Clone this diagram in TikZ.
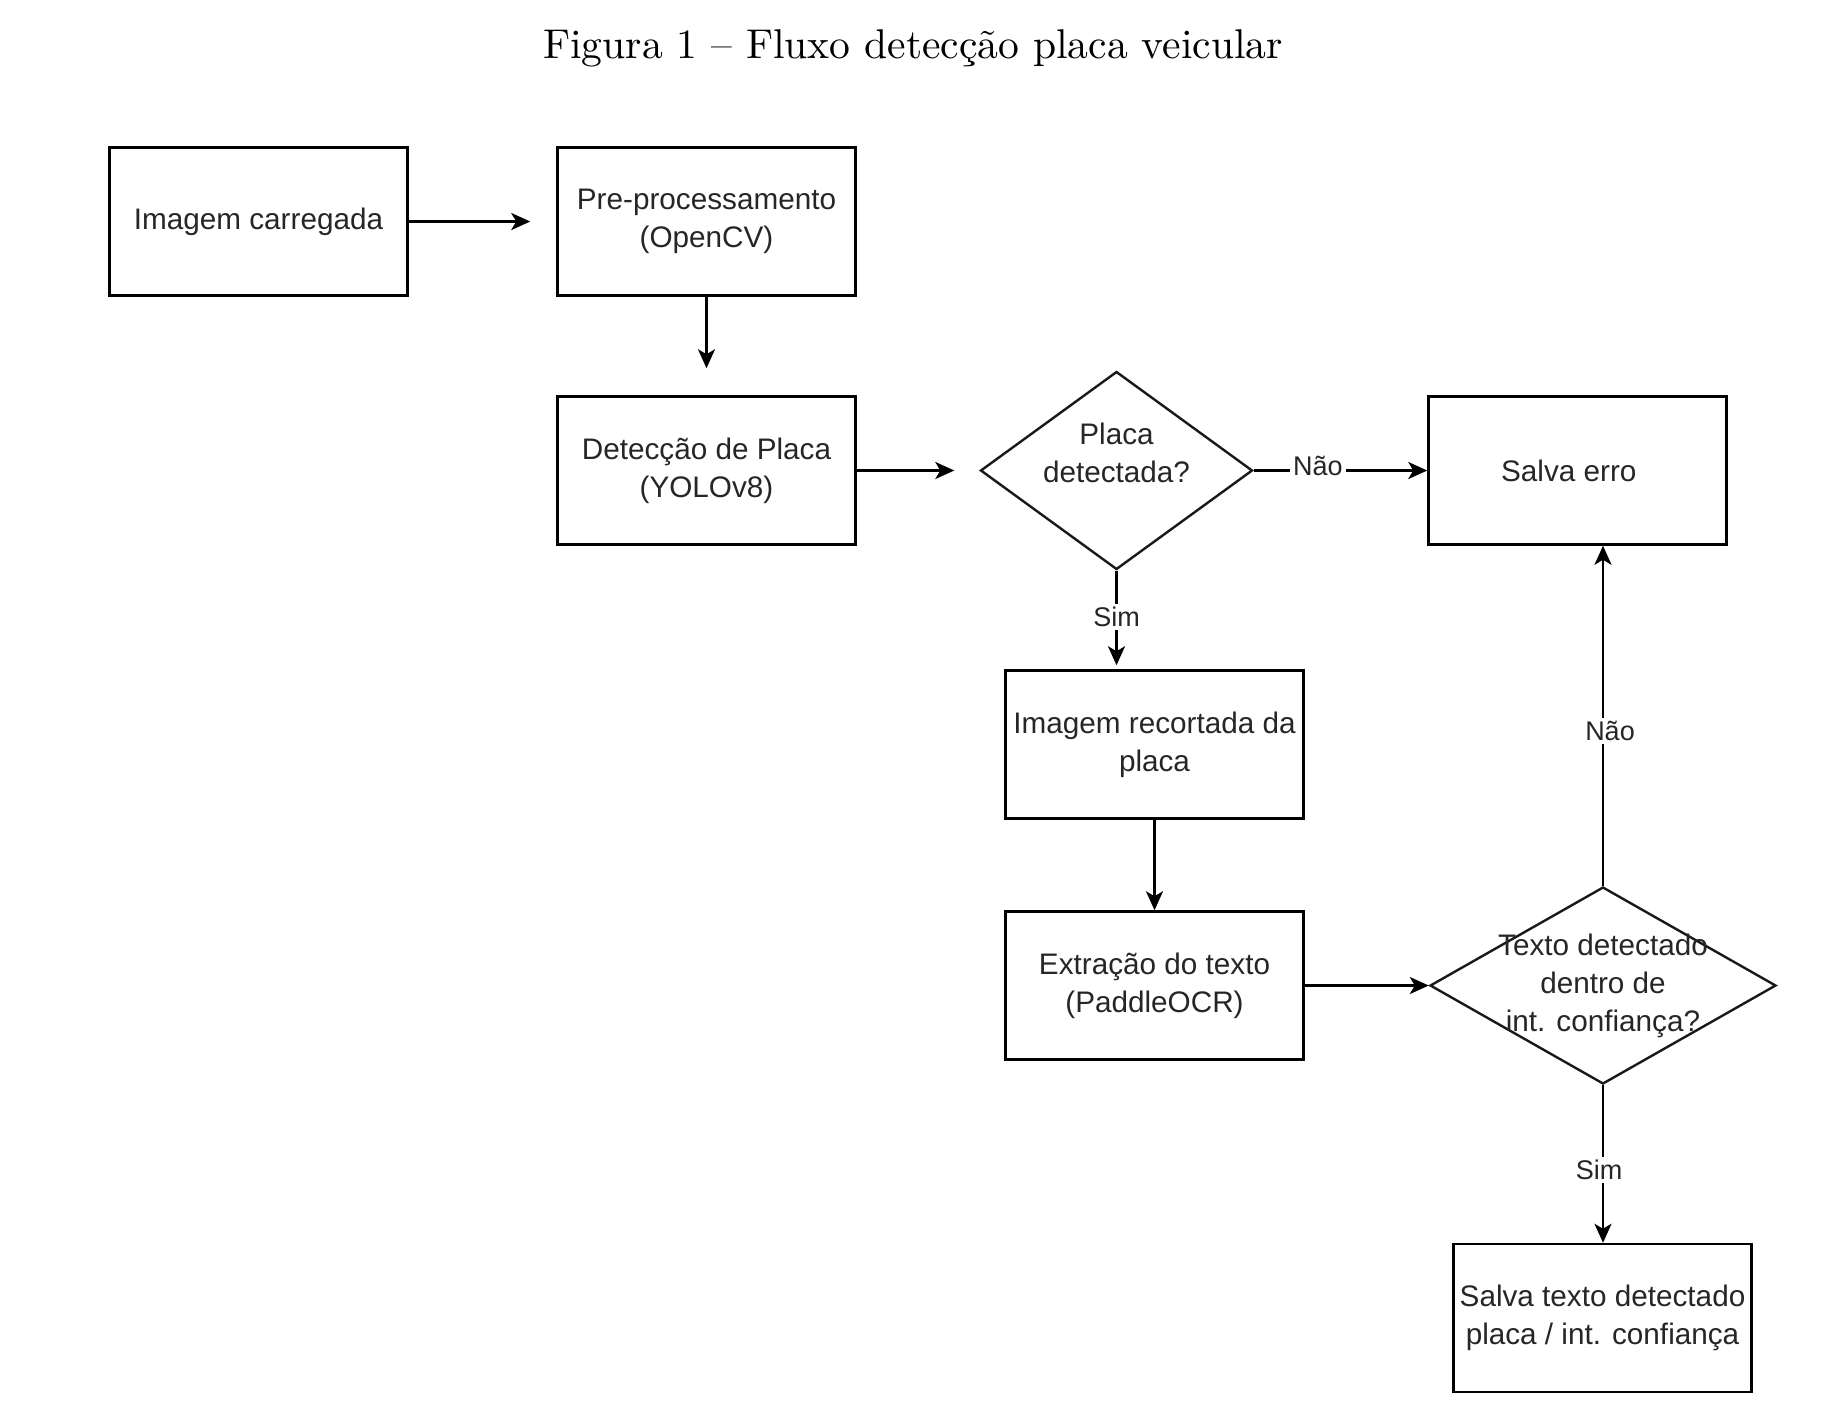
\documentclass[tikz,border=0pt]{standalone}
\usepackage{fontspec}
\newfontfamily\arialf{Liberation Sans}
\newfontfamily\titlef{lmroman10-regular}[Extension=.otf, Ligatures=TeX]
\usetikzlibrary{shapes.geometric,arrows.meta}
\begin{document}
\begin{tikzpicture}[x=0.5pt,y=-0.5pt,
  boxtext/.style={font=\arialf\fontsize{14.85}{19}\selectfont, text=black!85, align=center},
  box/.style={boxtext, draw=black, line width=1.25pt, minimum width=149pt, minimum height=74pt, inner sep=0pt},
  dia/.style={draw=black!90, shape=diamond, line width=1.2pt, inner sep=0pt},
  arr/.style={-{Stealth[length=9.5pt,width=8.5pt,inset=2.5pt]}, line width=1.25pt, draw=black},
  lbl/.style={font=\arialf\fontsize{13.5}{16}\selectfont, text=black!85, fill=white, inner sep=1.5pt}
]
\useasboundingbox (0,0) rectangle (1826,1410);

\node[anchor=base, font=\titlef\fontsize{20.8}{25}\selectfont] (title) at (913,58) {Figura 1 – Fluxo detecção placa veicular};

\node[box] (b1) at (258.5,221.5) {Imagem carregada};
\node[box] (b2) at (706.5,221.5) {Pre-processamento\\(OpenCV)};
\node[box] (b3) at (706.5,470.5) {Detecção de Placa\\(YOLOv8)};
\node[dia, minimum width=136pt, minimum height=99pt] (d1) at (1116.5,470.5) {};
\node[boxtext, yshift=9pt] (d1t) at (d1) {Placa\\detectada?};
\node[box] (se) at (1577.5,470.5) {Salva erro\kern 8.7pt};
\node[box] (ir) at (1154.5,744.5) {Imagem recortada da\\placa};
\node[box] (ex) at (1154.5,985.5) {Extração do texto\\(PaddleOCR)};
\node[dia, minimum width=173pt, minimum height=98.5pt] (d2) at (1603,985.5) {};
\node[boxtext] (d2t) at (d2) {Texto detectado\\dentro de\\int. confiança?};
\node[box] (st) at (1602.5,1318) {Salva texto detectado\\placa / int. confiança};

\draw[arr, shorten >=13pt] (b1) -- (b2);
\draw[arr, shorten >=13.5pt] (b2) -- (b3);
\draw[arr, shorten >=12.5pt] (b3) -- (d1);
\draw[arr] (d1) -- node[lbl, pos=0.37, yshift=2.5pt] {Não} (se);
\draw[arr, shorten >=2pt] (d1.south) -- node[lbl, pos=0.47] {Sim} (d1.south |- ir.north);
\draw[arr] (ir) -- (ex);
\draw[arr] (ex) -- (d2);
\draw[arr] (d2.north) -- node[lbl, pos=0.455, xshift=3.5pt] {Não} (d2.north |- se.south);
\draw[arr] (d2.south) -- node[lbl, pos=0.536, xshift=-2pt] {Sim} (d2.south |- st.north);
\end{tikzpicture}
\end{document}
